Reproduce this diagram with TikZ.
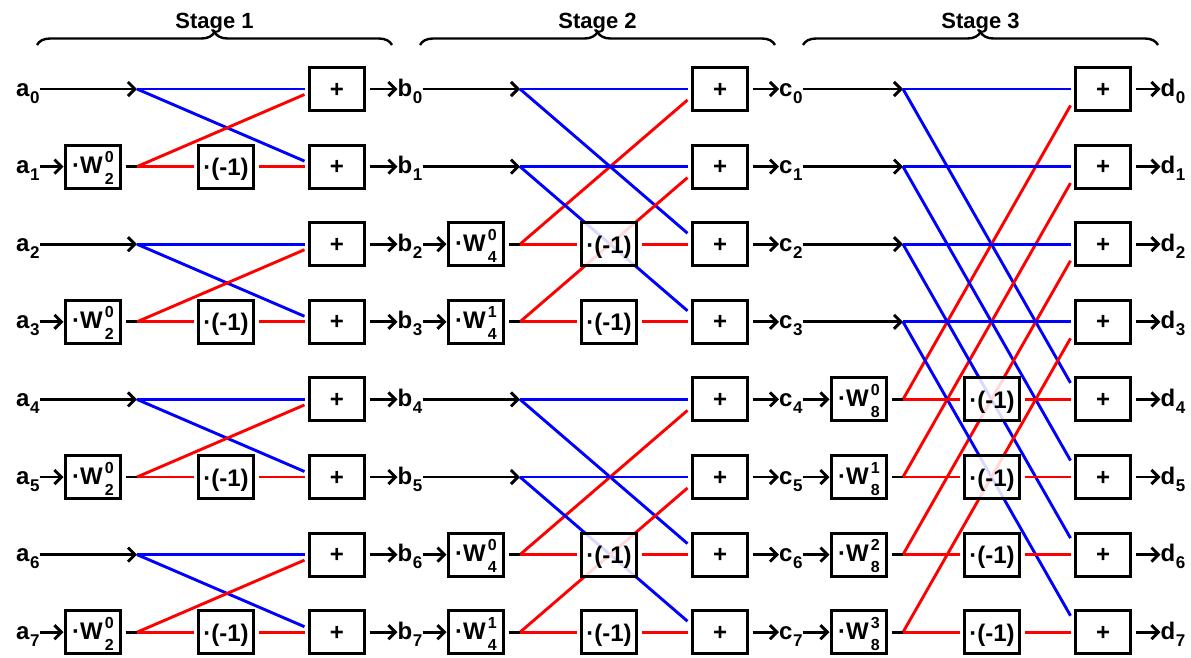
\documentclass[tikz,border=0pt]{standalone}
\usepackage{fontspec}
\setmainfont{Liberation Sans}
\usetikzlibrary{arrows.meta,decorations.pathreplacing}
\pgfdeclarelayer{bg}
\pgfsetlayers{bg,main}
\definecolor{bfblue}{RGB}{0,0,255}
\definecolor{bfred}{RGB}{255,0,0}
\newcommand{\siglab}[2]{#1\kern0.5pt\raisebox{-7pt}{\fontsize{17}{17}\selectfont #2}}
\newcommand{\twf}[2]{·W\kern2pt\rlap{\raisebox{11pt}{\fontsize{16}{16}\selectfont #1}}\raisebox{-11pt}{\fontsize{16}{16}\selectfont #2}}
\begin{document}
\begin{tikzpicture}[x=1pt,y=-1pt,
  every node/.style={inner sep=0pt, font=\fontsize{24}{24}\selectfont\bfseries},
  box/.style={draw, line width=2.9pt, minimum width=55pt, minimum height=43pt, outer sep=5pt},
  plusbox/.style={box, text height=20pt, text depth=4pt},
  negbox/.style={box, fill=white, fill opacity=0.85, text opacity=1, draw opacity=1, text height=22pt, text depth=4pt},
  twbox/.style={box, text height=20pt, text depth=6pt},
  sigstyle/.style={anchor=west, text height=14pt, text depth=0pt},
  wire/.style={line width=2.9pt},
  arr/.style={wire, -{Straight Barb[length=7pt,width=14pt]}},
  bl/.style={wire, bfblue},
  rd/.style={wire, bfred},
  bracestyle/.style={line width=2.4pt, decorate, decoration={brace, amplitude=13pt}},
  stagestyle/.style={anchor=base, font=\fontsize{22}{22}\selectfont\bfseries}
]
\useasboundingbox (0,0) rectangle (1191,657);
% signal labels
\foreach \s/\c in {0/a,1/b,2/c,3/d} {
  \foreach \r in {0,...,7} {
    \node[sigstyle] (L-\s-\r) at ({16+381.5*\s},{89+77.6*\r}) {\siglab{\c}{\r}};
  }
}
% boxes
\foreach \s in {0,1,2} {
  \pgfmathtruncatemacro\h{2^\s}
  \pgfmathsetmacro\xo{383*\s}
  \foreach \r in {0,...,7} {
    \pgfmathsetmacro\yy{89+77.6*\r}
    \pgfmathtruncatemacro\lo{mod(\r,2*\h)>=\h ? 1 : 0}
    \coordinate (X-\s-\r) at ({137+\xo},\yy);
    \node[plusbox] (P-\s-\r) at ({337+\xo},\yy) {+};
    \ifnum\lo=1
      \pgfmathtruncatemacro\k{mod(\r,2*\h)-\h}
      \pgfmathtruncatemacro\N{2*\h}
      \node[twbox] (W-\s-\r) at ({93+\xo},\yy) {\twf{\k}{\N}};
      \node[negbox] (M-\s-\r) at ({226+\xo},\yy) {·(-1)};
    \fi
  }
}
% wires
\begin{pgfonlayer}{bg}
\foreach \s in {0,1,2} {
  \pgfmathtruncatemacro\h{2^\s}
  \pgfmathsetmacro\off{5.5*(\s+1)}
  \pgfmathtruncatemacro\t{\s+1}
  \foreach \r in {0,...,7} {
    \pgfmathtruncatemacro\lo{mod(\r,2*\h)>=\h ? 1 : 0}
    \draw[arr] (P-\s-\r.east) -- (L-\t-\r.west);
    \ifnum\lo=0
      \pgfmathtruncatemacro\p{\r+\h}
      \draw[arr] (L-\s-\r.east) -- (X-\s-\r);
      \draw[bl] (X-\s-\r) -- (P-\s-\r.west);
      \draw[bl] (X-\s-\r) -- ([yshift=\off pt]P-\s-\p.west);
      \draw[rd] (X-\s-\p) -- ([yshift=-\off pt]P-\s-\r.west);
    \else
      \draw[arr] (L-\s-\r.east) -- ([xshift=3pt]W-\s-\r.west);
      \draw[wire] (W-\s-\r.east) -- (X-\s-\r);
      \draw[rd] (X-\s-\r) -- (M-\s-\r.west);
      \draw[rd] (M-\s-\r.east) -- (P-\s-\r.west);
    \fi
  }
}
\end{pgfonlayer}
% braces and titles
\foreach \s in {0,1,2} {
  \pgfmathtruncatemacro\t{\s+1}
  \coordinate (B-\s-a) at ({37+383*\s},45);
  \coordinate (B-\s-b) at ({392+383*\s},45);
  \draw[bracestyle] (B-\s-a) -- (B-\s-b);
  \node[stagestyle] (S-\s) at ({214.5+383*\s},28) {Stage \t};
}
\end{tikzpicture}
\end{document}
